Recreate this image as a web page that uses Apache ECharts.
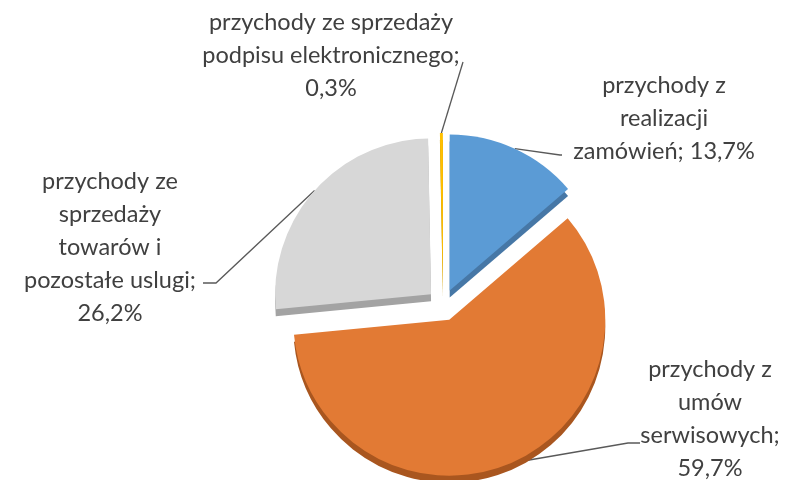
<!DOCTYPE html>
<html><head><meta charset="utf-8">
<script src="https://cdn.jsdelivr.net/npm/echarts@6/dist/echarts.min.js"></script>
<style>html,body{margin:0;padding:0;background:#fff}#c{width:794px;height:480px}</style>
</head><body><div id="c"></div>
<script>
// ---- data ----
const categories = [
  'przychody z realizacji zamówień',
  'przychody z umów serwisowych',
  'przychody ze sprzedaży towarów i pozostałe uslugi',
  'przychody ze sprzedaży podpisu elektronicznego'
];
const values = [13.7, 59.7, 26.2, 0.3];
// label wrapping (text lines of each category name)
const nameLines = [
  ['przychody z', 'realizacji', 'zamówień'],
  ['przychody z', 'umów', 'serwisowych'],
  ['przychody ze', 'sprzedaży', 'towarów i', 'pozostałe uslugi'],
  ['przychody ze sprzedaży', 'podpisu elektronicznego']
];

// ---- styles / layout ----
const CENTER = [443, 305];
const RADIUS = 156;
const OFFSET = 16;
const colors = ['#5B9BD5', '#E27A34', '#D7D7D7', '#FFC000'];
const sideColors = ['#4677A6', '#A9561F', '#A3A3A3', '#C09000'];
const valueSep = [' ', '\n', '\n', '\n'];
const labelCenter = [[664, 118], [710, 419], [110, 247], [331, 55]];
const lineElbow = [[560, 155], [628, 443], [216, 283], [463, 62]];
const lineEnd = [[562, 155], [640, 443], [203, 283], [463, 62]];

const fmt = v => v.toFixed(1).replace('.', ',') + '%';

const chart = echarts.init(document.getElementById('c'), null, {renderer: 'canvas'});
chart.setOption({
  animation: false,
  backgroundColor: '#fff',
  series: [{
    // visible exploded pie
    type: 'pie',
    center: CENTER,
    radius: RADIUS,
    startAngle: 90,
    clockwise: true,
    selectedMode: 'multiple',
    selectedOffset: OFFSET,
    emphasis: {disabled: true},
    label: {show: false},
    labelLine: {show: false},
    data: categories.map((c, i) => ({
      name: c,
      value: values[i],
      selected: true,
      itemStyle: {
        color: colors[i],
        shadowColor: sideColors[i],
        shadowOffsetY: 7,
        shadowBlur: 0
      },
      select: {itemStyle: {color: colors[i], borderWidth: 0}}
    }))
  }, {
    // same pie, transparent, carrying the data labels
    type: 'pie',
    center: CENTER,
    radius: RADIUS,
    startAngle: 90,
    clockwise: true,
    silent: true,
    selectedMode: false,
    avoidLabelOverlap: false,
    emphasis: {disabled: true},
    itemStyle: {color: 'rgba(0,0,0,0)'},
    data: categories.map((c, i) => ({
      name: c,
      value: values[i],
      label: {formatter: nameLines[i].join('\n') + ';' + valueSep[i] + fmt(values[i])}
    })),
    label: {
      show: true,
      position: 'outside',
      fontFamily: 'Lato',
      fontSize: 23.5,
      lineHeight: 33,
      color: '#404040',
      align: 'center',
      width: 320,
      overflow: 'none'
    },
    labelLine: {
      show: true,
      length: 10,
      length2: 10,
      lineStyle: {color: '#595959', width: 1.3}
    },
    labelLayout: function (p) {
      const i = p.dataIndex;
      const p0 = p.labelLinePoints[0];
      const dx = p0[0] - CENTER[0], dy = p0[1] - CENTER[1];
      const L = Math.hypot(dx, dy) || 1;
      const start = [p0[0] + dx / L * OFFSET, p0[1] + dy / L * OFFSET];
      return {
        x: labelCenter[i][0],
        y: labelCenter[i][1],
        align: 'center',
        verticalAlign: 'middle',
        labelLinePoints: [start, lineElbow[i], lineEnd[i]]
      };
    }
  }]
});
</script>
</body></html>
